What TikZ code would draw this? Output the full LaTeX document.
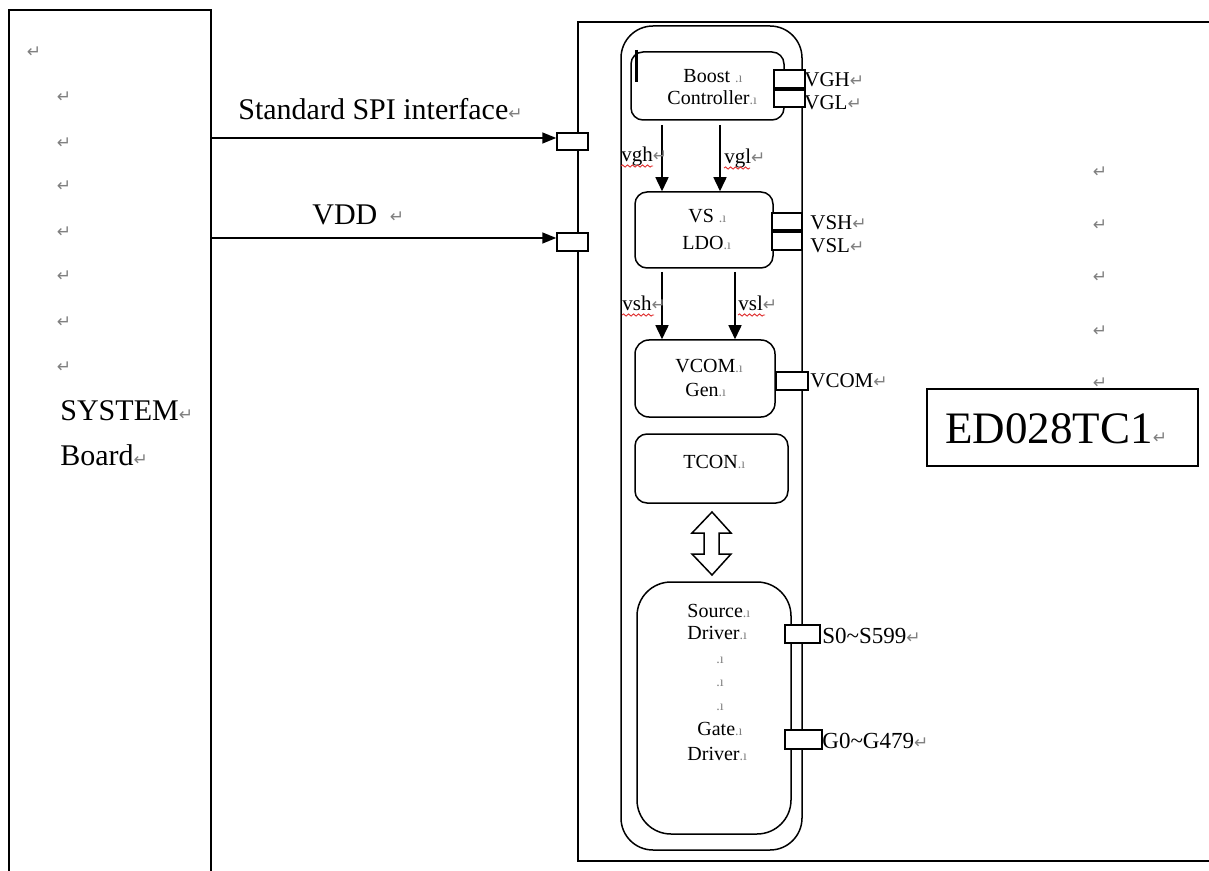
\documentclass[tikz,border=0pt]{standalone}
\usepackage{fontspec}
\setmainfont{Liberation Serif}
\newfontfamily\dvsans{DejaVu Sans}
\usetikzlibrary{fit,arrows.meta,decorations.pathmorphing}
\definecolor{markgray}{HTML}{808080}
\definecolor{spellred}{HTML}{E03030}
\newcommand{\retmark}{{\dvsans\fontsize{8.5pt}{9pt}\selectfont\textcolor{markgray}{↵}}}
\newcommand{\cellmark}{{\fontsize{7pt}{7pt}\selectfont\textcolor{markgray}{.ı}}}
\begin{document}
\begin{tikzpicture}[x=0.5pt,y=-0.5pt,
  outline/.style={draw, line width=0.75pt, inner sep=0pt},
  rbox/.style={draw, line width=0.75pt, inner sep=0pt, rounded corners=6pt},
  pinbox/.style={draw, fill=white, line width=0.75pt, inner sep=0pt},
  lbl/.style={anchor=base west, inner sep=0pt, font=\fontsize{10.5pt}{12pt}\selectfont},
  pinlbl/.style={anchor=base west, inner sep=0pt, font=\fontsize{11.5pt}{13pt}\selectfont},
  boxtxt/.style={anchor=base west, inner sep=0pt, font=\fontsize{10pt}{12pt}\selectfont},
  bigtxt/.style={anchor=base west, inner sep=0pt, font=\fontsize{15pt}{18pt}\selectfont},
  retnode/.style={inner sep=0pt},
  arr/.style={line width=0.75pt, -{Triangle[width=6.5pt,length=7pt]}},
  arrs/.style={line width=0.75pt, -{Triangle[width=5.5pt,length=7pt]}},
  wavy/.style={spellred, line width=0.45pt, decorate, decoration={snake, amplitude=0.55pt, segment length=2.5pt}}
]
\clip (0,0) rectangle (1209,871);
\fill[white] (0,0) rectangle (1209,871);

% outer frames
\node[outline, fit={(9,10)(211,900)}] (sys) {};
\node[outline, fit={(578,22)(1240,861)}] (disp) {};
\node[outline, fit={(927,389)(1198,466)}] (edbox) {};

% IC and internal blocks
\node[rbox, rounded corners=16pt, fit={(621,26)(802,850)}] (ic) {};
\node[rbox, fit={(631,52)(784,120)}] (boost) {};
\draw[line width=1.5pt] (636,50) -- (636,82);
\node[rbox, fit={(635,192)(773,268)}] (ldo) {};
\node[rbox, rounded corners=7pt, fit={(635,340)(775,417)}] (vcomgen) {};
\node[rbox, fit={(635,434)(788,503)}] (tcon) {};
\node[rbox, rounded corners=17pt, fit={(637,582)(791,834)}] (drv) {};

% connectors
\coordinate (spiy) at (0,138);
\coordinate (vddy) at (0,238);
\node[pinbox, fit={(557,133)(588,150)}] (pspi) {};
\node[pinbox, fit={(557,233)(588,251)}] (pvdd) {};
\draw[arrs] (sys.east |- spiy) -- (pspi.west |- spiy);
\draw[arrs] (sys.east |- vddy) -- (pvdd.west |- vddy);

\coordinate (vghs) at (662,125);
\coordinate (vgls) at (720,125);
\coordinate (vshs) at (662,272);
\coordinate (vsls) at (735,272);
\draw[arr] (vghs) -- (vghs |- ldo.north);
\draw[arr] (vgls) -- (vgls |- ldo.north);
\draw[arr] (vshs) -- (vshs |- vcomgen.north);
\draw[arr] (vsls) -- (vsls |- vcomgen.north);

% double arrow TCON <-> drivers
\draw[line width=0.75pt, fill=white] (692,533) -- (712,512) -- (731,533) -- (719,533) -- (719,554) -- (731,554) -- (712,575) -- (692,554) -- (704,554) -- (704,533) -- cycle;

% pins
\node[pinbox, fit={(774,70)(805,88)}] (pvgh) {};
\node[pinbox, fit={(774,90)(805,107)}] (pvgl) {};
\node[pinbox, fit={(772,213)(802,230)}] (pvsh) {};
\node[pinbox, fit={(772,232)(802,250)}] (pvsl) {};
\node[pinbox, fit={(776,372)(808,390)}] (pvcom) {};
\node[pinbox, fit={(785,625)(820,643)}] (ps) {};
\node[pinbox, fit={(785,730)(822,749)}] (pg) {};

% big labels
\node[bigtxt] (spitxt) at (238,120) {Standard SPI interface\retmark};
\node[bigtxt] (vddtxt) at (312,225) {VDD};
\node[retnode] (rvdd) at (397,217) {\retmark};
\node[bigtxt] (systxt) at (60,420) {SYSTEM\retmark};
\node[bigtxt] (boardtxt) at (60,465) {Board\retmark};
\node[anchor=base west, inner sep=0pt, font=\fontsize{22.5pt}{26pt}\selectfont] (edtxt) at (945,443) {ED028TC1\retmark};

% paragraph marks
\node[retnode] (rl1) at (34,52) {\retmark};
\node[retnode] (rl2) at (64,97) {\retmark};
\node[retnode] (rl3) at (64,143) {\retmark};
\node[retnode] (rl4) at (64,186) {\retmark};
\node[retnode] (rl5) at (64,232) {\retmark};
\node[retnode] (rl6) at (64,276) {\retmark};
\node[retnode] (rl7) at (64,322) {\retmark};
\node[retnode] (rl8) at (64,367) {\retmark};
\node[retnode] (rr1) at (1100,172) {\retmark};
\node[retnode] (rr2) at (1100,225) {\retmark};
\node[retnode] (rr3) at (1100,277) {\retmark};
\node[retnode] (rr4) at (1100,331) {\retmark};
\node[retnode] (rr5) at (1100,383) {\retmark};

% box texts
\node[boxtxt] (t1) at (683,83) {Boost \cellmark};
\node[boxtxt] (t2) at (667,105) {Controller\cellmark};
\node[boxtxt] (t3) at (688,223) {VS \cellmark};
\node[boxtxt] (t4) at (682,250) {LDO\cellmark};
\node[boxtxt] (t5) at (675,372) {VCOM\cellmark};
\node[boxtxt] (t6) at (685,396) {Gen\cellmark};
\node[boxtxt] (t7) at (683,468) {TCON\cellmark};
\node[boxtxt] (t8) at (687,617) {Source\cellmark};
\node[boxtxt] (t9) at (687,639) {Driver\cellmark};
\node[boxtxt] (t10) at (716,663) {\cellmark};
\node[boxtxt] (t11) at (716,686) {\cellmark};
\node[boxtxt] (t12) at (716,710) {\cellmark};
\node[boxtxt] (t13) at (697,735) {Gate\cellmark};
\node[boxtxt] (t14) at (687,760) {Driver\cellmark};

% pin labels
\node[lbl] (lvgh) at (804,87) {VGH\retmark};
\node[lbl] (lvgl) at (804,110) {VGL\retmark};
\node[lbl] (lvsh) at (810,230) {VSH\retmark};
\node[lbl] (lvsl) at (810,253) {VSL\retmark};
\node[lbl] (lvcom) at (810,387) {VCOM\retmark};
\node[pinlbl] (ls) at (822,643) {S0\textasciitilde S599\retmark};
\node[pinlbl] (lg) at (822,748) {G0\textasciitilde G479\retmark};

% rail labels with spelling underlines
\node[lbl] (lvghr) at (621,162) {vgh\retmark};
\node[lbl] (lvglr) at (724,164) {vgl\retmark};
\node[lbl] (lvshr) at (622,311) {vsh\retmark};
\node[lbl] (lvslr) at (738,311) {vsl\retmark};
\draw[wavy] (621,166) -- (653,166);
\draw[wavy] (724,168) -- (750,168);
\draw[wavy] (622,315) -- (654,315);
\draw[wavy] (738,315) -- (765,315);
\end{tikzpicture}
\end{document}
